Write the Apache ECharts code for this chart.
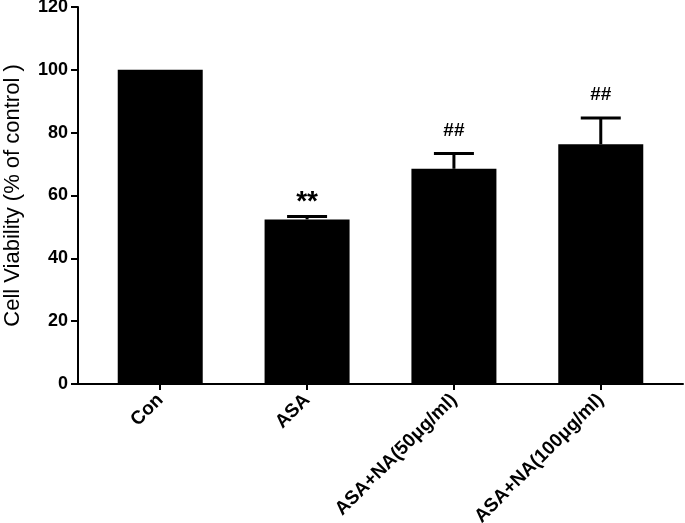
<!DOCTYPE html>
<html>
<head>
<meta charset="utf-8">
<script src="https://cdn.jsdelivr.net/npm/echarts@6/dist/echarts.min.js"></script>
<style>html,body{margin:0;padding:0;background:#fff}#c{width:685px;height:523px}</style>
</head>
<body>
<div id="c"></div>
<script>
const categories = ['Con', 'ASA', 'ASA+NA(50\u03bcg/ml)', 'ASA+NA(100\u03bcg/ml)'];
const means = [100, 52.4, 68.5, 76.3];
const errors = [0, 0.9, 4.9, 8.4];
const marks = ['', '**', '##', '##'];
const yTicks = [0, 20, 40, 60, 80, 100, 120];

const chart = echarts.init(document.getElementById('c'));
const font = '"Liberation Sans", Arial, sans-serif';
const idx = categories.map((_, i) => i);

chart.setOption({
  animation: false,
  backgroundColor: '#fff',
  grid: { left: 78, right: 2, top: 7, bottom: 139, containLabel: false, outerBoundsMode: 'none' },
  xAxis: {
    type: 'value', min: -0.56, max: 3.56,
    splitLine: { show: false },
    axisLine: { show: true, onZero: false, lineStyle: { color: '#000', width: 2 } },
    axisTick: { show: true, customValues: idx, length: 6, lineStyle: { color: '#000', width: 2 } },
    axisLabel: {
      customValues: idx, rotate: 45, margin: 13,
      formatter: v => categories[Math.round(v)] || '',
      color: '#000', fontFamily: font, fontWeight: 'bold', fontSize: 19
    }
  },
  yAxis: {
    type: 'value', min: 0, max: 120, interval: 20,
    name: 'Cell Viability (% of control )', nameLocation: 'middle', nameGap: 54,
    nameTextStyle: { color: '#000', fontFamily: font, fontSize: 22 },
    splitLine: { show: false },
    axisLine: { show: true, onZero: false, lineStyle: { color: '#000', width: 2 } },
    axisTick: { show: true, length: 7, lineStyle: { color: '#000', width: 2 } },
    axisLabel: {
      margin: 10, color: '#000', fontFamily: font, fontWeight: 'bold', fontSize: 18,
      formatter: v => yTicks.includes(v) ? String(v) : ''
    }
  },
  series: [
    {
      type: 'bar', barWidth: 85,
      itemStyle: { color: '#000' },
      data: means.map((m, i) => [i, m]),
      z: 2
    },
    {
      type: 'custom',
      z: 3,
      data: means.map((m, i) => [i, m, errors[i], marks[i]]),
      renderItem: function (params, api) {
        const x = api.value(0), m = api.value(1), e = api.value(2);
        const mark = marks[params.dataIndex];
        const base = api.coord([x, m]);
        const top = api.coord([x, m + e]);
        const children = [];
        if (e > 0) {
          children.push({ type: 'line', shape: { x1: top[0], y1: base[1], x2: top[0], y2: top[1] }, style: { stroke: '#000', lineWidth: 3 } });
          children.push({ type: 'line', shape: { x1: top[0] - 20, y1: top[1], x2: top[0] + 20, y2: top[1] }, style: { stroke: '#000', lineWidth: 3 } });
        }
        if (mark) {
          const isStar = mark === '**';
          children.push({
            type: 'text',
            style: {
              x: top[0], y: top[1] - (isStar ? 14 : 23), text: mark,
              align: 'center', verticalAlign: 'middle',
              font: 'bold ' + (isStar ? 28 : 19) + 'px ' + font, fill: '#000'
            }
          });
        }
        return { type: 'group', children: children };
      }
    }
  ]
});
</script>
</body>
</html>
